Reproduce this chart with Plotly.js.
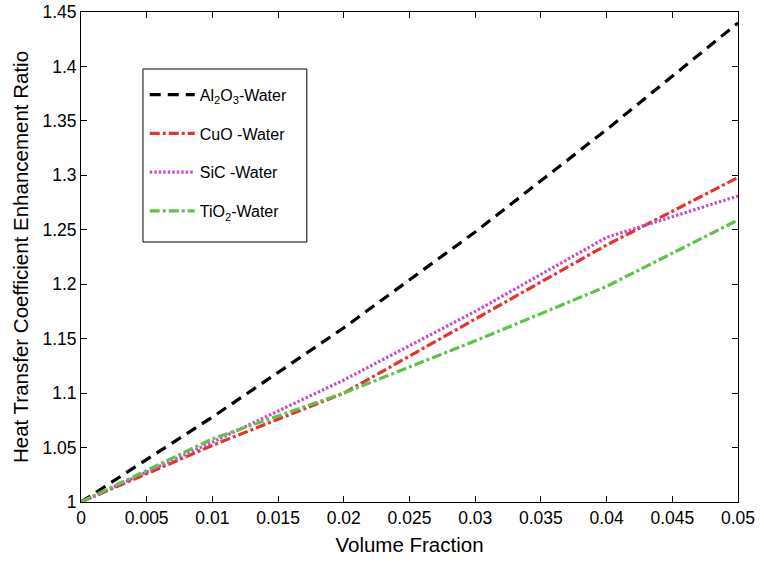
<!DOCTYPE html>
<html><head><meta charset="utf-8">
<script src="https://cdn.plot.ly/plotly-3.0.1.min.js"></script>
<style>html,body{margin:0;padding:0;background:#fff}#c{width:764px;height:562px}</style>
</head><body><div id="c"></div>
<script>
const volumeFraction = [0, 0.01, 0.02, 0.03, 0.04, 0.05];
const al2o3 = [1, 1.078, 1.160, 1.248, 1.342, 1.440];
const cuo   = [1, 1.052, 1.100, 1.168, 1.236, 1.298];
const sic   = [1, 1.055, 1.112, 1.175, 1.243, 1.281];
const tio2  = [1, 1.058, 1.100, 1.148, 1.198, 1.259];
const names = ['Al<sub>2</sub>O<sub>3</sub>-Water', 'CuO -Water', 'SiC -Water', 'TiO<sub>2</sub>-Water'];
const xTicks = [0,0.005,0.01,0.015,0.02,0.025,0.03,0.035,0.04,0.045,0.05];
const xTickText = ['0','0.005','0.01','0.015','0.02','0.025','0.03','0.035','0.04','0.045','0.05'];
const yTicks = [1,1.05,1.1,1.15,1.2,1.25,1.3,1.35,1.4,1.45];
const yTickText = ['1','1.05','1.1','1.15','1.2','1.25','1.3','1.35','1.4','1.45'];

const styles = [
  {color:'#000000', dash:'11px,7px'},
  {color:'#e8312a', dash:'10px,3px,3px,3px'},
  {color:'#c94fc4', dash:'2.5px,2px'},
  {color:'#5fc24a', dash:'10px,3px,3px,3px'}
];
const series = [al2o3, cuo, sic, tio2];
const data = series.map((y,i)=>({
  x: volumeFraction, y: y, type:'scatter', mode:'lines', name: names[i],
  legendgroup: 'g'+i,
  line: {color: styles[i].color, dash: styles[i].dash, width: 3.2}
}));

const layout = {
  width: 764, height: 562,
  margin: {l:81, r:25.5, t:12, b:60},
  paper_bgcolor:'#fff', plot_bgcolor:'#fff',
  font: {family:'Liberation Sans, Arial, sans-serif', color:'#000', size:17},
  showlegend: true,
  legend: {
    x: 0.097, y: 0.866, xanchor:'left', yanchor:'top',
    borderwidth:0, bgcolor:'rgba(0,0,0,0)',
    font:{size:16}, tracegroupgap: 15,
    itemwidth: 45
  },
  shapes: [{
    type:'rect', xref:'paper', yref:'paper',
    x0:0.0943, x1:0.3437, y0:0.5306, y1:0.8837,
    line:{color:'#000', width:1}, fillcolor:'rgba(255,255,255,0)', layer:'below'
  }],
  xaxis: {
    range:[0,0.05], tickvals:xTicks, ticktext:xTickText,
    ticks:'inside', ticklen:6, tickcolor:'#000', mirror:'ticks',
    showline:true, linecolor:'#000', linewidth:1, showgrid:false, zeroline:false,
    tickfont:{size:17.5},
    title:{text:'Volume Fraction', font:{size:20.5}, standoff:10}
  },
  yaxis: {
    range:[1,1.45], tickvals:yTicks, ticktext:yTickText,
    ticks:'inside', ticklen:6, tickcolor:'#000', mirror:'ticks',
    showline:true, linecolor:'#000', linewidth:1, showgrid:false, zeroline:false,
    tickfont:{size:17.5},
    title:{text:'Heat Transfer Coefficient Enhancement Ratio', font:{size:20.5}, standoff:8}
  }
};
Plotly.newPlot('c', data, layout, {displayModeBar:false, staticPlot:true});
</script></body></html>
